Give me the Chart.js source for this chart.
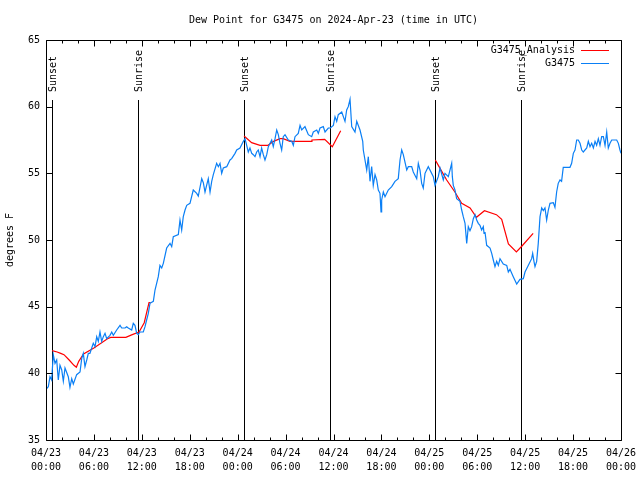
<!DOCTYPE html>
<html lang="en">
<head>
<meta charset="UTF-8" />
<title>Dew Point for G3475</title>
<script src="https://cdn.jsdelivr.net/npm/chart.js"></script>
<style>
  body { margin: 0; background: #fff; }
</style>
</head>
<body>
<canvas id="dewChart" width="640" height="480"></canvas>
<script>
  // hours after 2024-04-23 00:00 UTC
  const analysisHours = [0.75, 1.4, 1.84, 2.25, 2.9, 3.5, 3.8, 4.1, 4.7, 6.0, 7.7, 8.1, 10.0, 10.8, 11.65, 12.3, 12.9, 13.1,
    18,
    24.8, 25.75, 26.8, 27.8, 28.5, 29.3, 29.7, 30.55, 33.2, 33.3, 34.9, 35.85, 36.9,
    42,
    48.75, 49.34, 50.17, 51.2, 52.05, 53.1, 53.9, 54.9, 56.4, 57.06, 57.9, 58.9, 59.6, 61.0];
  const analysisDew = [41.7, 41.6, 41.5, 41.4, 41.0, 40.6, 40.45, 40.9, 41.45, 41.9, 42.6, 42.7, 42.7, 42.9, 43.1, 43.8, 45.3, 45.3,
    null,
    57.8, 57.3, 57.1, 57.1, 57.4, 57.6, 57.6, 57.4, 57.4, 57.5, 57.55, 57.0, 58.2,
    null,
    56.0, 55.37, 54.5, 53.6, 52.75, 52.4, 51.7, 52.2, 51.9, 51.55, 49.7, 49.1, 49.55, 50.5];

  const obsHours = [0, 0.29, 0.5, 0.71, 0.91, 1.13, 1.34, 1.54, 1.75, 1.97, 2.17, 2.38, 2.79, 3.0, 3.22, 3.42, 3.84, 4.26, 4.47, 4.67,
    4.88, 5.1, 5.3, 5.5, 5.92, 6.14, 6.35, 6.55, 6.76, 6.97, 7.18, 7.39, 7.6, 8.01, 8.23, 8.43, 8.85, 9.27, 9.48, 9.9,
    10.1, 10.3, 10.73, 10.93, 11.14, 11.36, 11.56, 11.77, 12.18, 12.4, 12.6, 12.81, 13.02, 13.44,
    13.65, 14.06, 14.27, 14.49, 14.69, 15.11, 15.53, 15.74, 15.94, 16.57, 16.78, 16.99, 17.19, 17.41, 17.62, 18.03, 18.44, 18.87, 19.07, 19.5,
    19.7, 19.91, 20.32, 20.54, 20.75, 20.95, 21.37, 21.58, 21.79, 22.0, 22.2, 22.63, 23.04, 23.25, 23.67, 23.88, 24.29, 24.71, 24.92, 25.13,
    25.33, 25.54, 25.76, 25.96, 26.17, 26.38, 26.58, 26.8, 27.0, 27.21, 27.42, 27.64, 27.84, 28.26, 28.46, 28.68, 28.89, 29.09, 29.3, 29.51,
    29.71, 29.93, 30.34, 30.77, 30.97, 31.18, 31.59, 31.81, 32.02, 32.43, 32.85, 33.27, 33.47, 33.9, 34.1, 34.31, 34.72, 34.94, 35.35, 35.6,
    35.98, 36.19, 36.4, 36.6, 37.03, 37.44, 37.65, 37.85, 38.07, 38.28, 38.69, 38.91, 39.32, 39.66, 39.73, 40.16, 40.36, 40.57, 40.78, 40.98,
    41.2, 41.41, 41.61, 41.82, 41.95, 42.03, 42.24, 42.45, 42.86, 43.29, 43.7, 44.11, 44.33, 44.54, 44.74, 45.17, 45.37, 45.79, 45.99, 46.42,
    46.62, 46.83, 47.04, 47.24, 47.46, 47.87, 48.5, 48.71, 49.12, 49.34, 49.75, 49.96, 50.38, 50.8, 50.88, 51.0, 51.21, 51.42, 51.84, 52.05,
    52.25, 52.47, 52.68, 52.88, 53.09, 53.3, 53.51, 53.72, 53.93, 54.13, 54.34, 54.55, 54.76, 54.85, 54.97, 55.18, 55.6, 55.81, 56.01, 56.22,
    56.43, 56.64, 56.85, 57.26, 57.69, 57.89, 58.1, 58.51, 58.94, 59.35, 59.77, 59.98, 60.4, 60.81, 60.94, 61.1, 61.23, 61.44, 61.64, 61.86,
    62.07, 62.27, 62.48, 62.69, 62.9, 63.11, 63.52, 63.73, 63.94, 64.14, 64.36, 64.56, 64.77, 65.61, 65.82, 66.03, 66.24, 66.45, 66.65, 66.87,
    67.08, 67.28, 67.71, 67.91, 68.12, 68.33, 68.54, 68.75, 68.95, 69.16, 69.37, 69.58, 69.79, 70.0, 70.21, 70.41, 70.62, 70.84, 71.46, 71.67,
    71.87, 72.0];
  const obsDew = [38.8, 39.0, 39.75, 39.5, 41.4, 40.75, 41.0, 39.5, 40.6, 40.25, 39.4, 40.4, 39.75, 38.95, 39.6, 39.2, 39.9, 40.1, 41.1, 41.5,
    40.5, 41.0, 41.5, 41.5, 42.25, 42.0, 42.75, 42.4, 43.1, 42.4, 42.75, 43.0, 42.6, 42.85, 43.1, 42.85, 43.25, 43.6, 43.4, 43.4,
    43.5, 43.4, 43.25, 43.75, 43.6, 43.0, 42.9, 43.1, 43.1, 43.5, 44.0, 44.5, 45.25, 45.4,
    46.25, 47.25, 48.1, 47.9, 48.25, 49.4, 49.75, 49.5, 50.25, 50.4, 51.5, 50.75, 51.75, 52.25, 52.6, 52.75, 53.75, 53.5, 53.3, 54.6,
    54.3, 53.6, 54.6, 53.6, 54.4, 54.9, 55.75, 55.5, 55.75, 55.0, 55.4, 55.5, 56.0, 56.1, 56.5, 56.75, 56.9, 57.4, 57.6, 57.1,
    56.6, 56.9, 56.5, 56.4, 56.25, 56.6, 56.75, 56.25, 56.9, 56.4, 56.0, 56.4, 57.0, 57.5, 57.0, 57.6, 58.25, 57.9, 57.25, 56.75,
    57.75, 57.9, 57.5, 57.4, 57.1, 57.75, 58.0, 58.6, 58.25, 58.5, 57.9, 57.75, 58.1, 58.25, 58.0, 58.4, 58.5, 58.1, 58.4, 58.4,
    58.6, 59.25, 58.9, 59.4, 59.6, 58.9, 59.75, 60.0, 60.55, 58.5, 58.1, 58.9, 58.25, 57.4, 56.75, 55.25, 56.25, 54.4, 55.5, 54.1,
    54.9, 54.5, 53.75, 53.5, 52.1, 53.0, 53.6, 53.25, 53.75, 54.0, 54.4, 54.6, 56.0, 56.75, 56.4, 55.25, 55.5, 55.5, 55.1, 54.6,
    55.75, 55.25, 54.25, 53.9, 55.0, 55.5, 54.75, 54.1, 54.75, 55.4, 54.5, 55.0, 54.75, 55.75, 54.75, 54.1, 53.75, 53.1, 52.9, 52.25,
    51.75, 51.25, 49.75, 51.0, 50.7, 51.0, 51.6, 51.9, 51.5, 51.25, 51.1, 50.75, 51.0, 50.5, 50.6, 49.6, 49.4, 49.0, 48.5, 48.0,
    48.4, 48.1, 48.6, 48.2, 48.1, 47.6, 47.8, 47.25, 46.7, 47.05, 47.1, 47.6, 48.1, 48.6, 49.0, 48.4, 48.0, 48.4, 49.75, 51.75,
    52.4, 52.2, 52.4, 51.5, 52.25, 52.75, 52.8, 52.45, 53.6, 54.25, 54.5, 54.4, 55.45, 55.45, 55.75, 56.5, 56.75, 57.5, 57.5, 57.25,
    56.75, 56.6, 56.9, 57.4, 57.0, 57.25, 56.9, 57.4, 57.1, 57.6, 57.1, 57.75, 57.75, 57.1, 58.1, 56.9, 57.25, 57.5, 57.5, 57.25,
    56.75, 56.5];

  const sunHours = [0.75, 11.5, 24.77, 35.55, 48.75, 59.5];
  const sunLabels = ['Sunset', 'Sunrise', 'Sunset', 'Sunrise', 'Sunset', 'Sunrise'];
  const sunLineTop = 60.5;
  const sunLabelAt = 61.1;

  const xTickLabels = [['04/23', '00:00'], ['04/23', '06:00'], ['04/23', '12:00'], ['04/23', '18:00'],
    ['04/24', '00:00'], ['04/24', '06:00'], ['04/24', '12:00'], ['04/24', '18:00'],
    ['04/25', '00:00'], ['04/25', '06:00'], ['04/25', '12:00'], ['04/25', '18:00'], ['04/26', '00:00']];

  const FONT = '"DejaVu Sans Mono", monospace';

  // gnuplot look: framed box, inward ticks, sun markers and key in the corner
  const gnuFrame = {
    id: 'gnuFrame',
    beforeDatasetsDraw(chart) {
      const { ctx, chartArea: a, scales: { x, y } } = chart;
      ctx.save();
      ctx.strokeStyle = '#000';
      ctx.fillStyle = '#000';
      ctx.lineWidth = 1;
      ctx.font = '10px ' + FONT;
      sunHours.forEach((h, i) => {
        const px = Math.round(x.getPixelForValue(h)) + 0.5;
        ctx.beginPath();
        ctx.moveTo(px, y.getPixelForValue(sunLineTop));
        ctx.lineTo(px, a.bottom);
        ctx.stroke();
        ctx.save();
        ctx.translate(px + 1, y.getPixelForValue(sunLabelAt));
        ctx.rotate(-Math.PI / 2);
        ctx.textAlign = 'left';
        ctx.textBaseline = 'middle';
        ctx.fillText(sunLabels[i], 0, 0);
        ctx.restore();
      });
      ctx.restore();
    },
    afterDraw(chart) {
      const { ctx, chartArea: a, scales: { x, y } } = chart;
      ctx.save();
      ctx.strokeStyle = '#000';
      ctx.lineWidth = 1;
      const L = Math.round(a.left) + 0.5, R = Math.round(a.right) + 0.5;
      const T = Math.round(a.top) + 0.5, B = Math.round(a.bottom) + 0.5;
      ctx.beginPath();
      ctx.rect(L, T, R - L, B - T);
      x.ticks.forEach(t => {
        const px = Math.round(x.getPixelForValue(t.value)) + 0.5;
        const len = t.value % 6 === 0 ? 6 : 3;
        ctx.moveTo(px, B); ctx.lineTo(px, B - len);
        ctx.moveTo(px, T); ctx.lineTo(px, T + len);
      });
      y.ticks.forEach(t => {
        const py = Math.round(y.getPixelForValue(t.value)) + 0.5;
        ctx.moveTo(L, py); ctx.lineTo(L + 6, py);
        ctx.moveTo(R, py); ctx.lineTo(R - 6, py);
      });
      ctx.stroke();

      // key
      ctx.font = '10px ' + FONT;
      ctx.textAlign = 'right';
      ctx.textBaseline = 'middle';
      ctx.fillStyle = '#000';
      chart.data.datasets.forEach((ds, i) => {
        const ky = Math.round(a.top + 10 + i * 13) + 0.5;
        ctx.fillText(ds.label, a.right - 46, ky);
        ctx.strokeStyle = ds.borderColor;
        ctx.beginPath();
        ctx.moveTo(a.right - 40, ky);
        ctx.lineTo(a.right - 12, ky);
        ctx.stroke();
      });
      ctx.restore();
    }
  };

  new Chart(document.getElementById('dewChart'), {
    type: 'line',
    data: {
      datasets: [
        {
          label: 'G3475_Analysis',
          data: analysisHours.map((h, i) => ({ x: h, y: analysisDew[i] })),
          borderColor: '#ff0000',
          borderWidth: 1.2,
          order: 1
        },
        {
          label: 'G3475',
          data: obsHours.map((h, i) => ({ x: h, y: obsDew[i] })),
          borderColor: '#0a7ff5',
          borderWidth: 1.2,
          order: 0
        }
      ]
    },
    options: {
      responsive: false,
      animation: false,
      spanGaps: false,
      layout: { padding: { left: 0, right: 19, top: 0, bottom: 0 } },
      elements: { point: { radius: 0 }, line: { tension: 0 } },
      plugins: {
        legend: { display: false },
        tooltip: { enabled: false },
        title: {
          display: true,
          fullSize: false,
          text: 'Dew Point for G3475 on 2024-Apr-23 (time in UTC)',
          color: '#000',
          font: { family: FONT, size: 10, weight: 'normal', lineHeight: 1.2 },
          padding: { top: 14, bottom: 14 }
        }
      },
      scales: {
        x: {
          type: 'linear',
          min: 0,
          max: 72,
          grid: { display: false, drawTicks: false },
          border: { display: false },
          ticks: {
            stepSize: 2,
            autoSkip: false,
            maxRotation: 0,
            padding: 6,
            color: '#000',
            font: { family: FONT, size: 10, lineHeight: 1.4 },
            callback: v => (v % 6 === 0 ? xTickLabels[v / 6] : '')
          },
          afterFit: s => { s.height = 40; s.paddingLeft = 0; s.paddingRight = 0; }
        },
        y: {
          min: 35,
          max: 65,
          grid: { display: false, drawTicks: false },
          border: { display: false },
          ticks: {
            stepSize: 5,
            padding: 6,
            color: '#000',
            font: { family: FONT, size: 10 }
          },
          title: {
            display: true,
            text: 'degrees F',
            color: '#000',
            font: { family: FONT, size: 10, lineHeight: 1.2 },
            padding: { top: 4, bottom: 0 }
          },
          afterFit: s => { s.width = 46; }
        }
      }
    },
    plugins: [gnuFrame]
  });
</script>
</body>
</html>
